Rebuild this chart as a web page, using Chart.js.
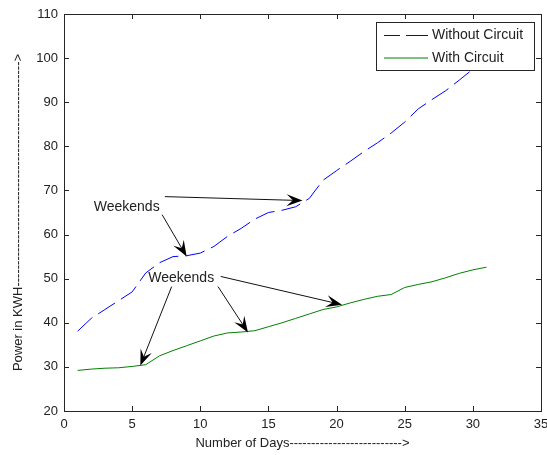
<!DOCTYPE html>
<html>
<head>
<meta charset="utf-8">
<script src="https://cdn.jsdelivr.net/npm/chart.js@4"></script>
<style>
  html, body { margin: 0; padding: 0; background: #fff; }
  canvas { display: block; }
</style>
</head>
<body>
<canvas id="powerChart" width="547" height="455"></canvas>
<script>
const days = [1, 2, 3, 4, 5, 6, 7, 8, 9, 10, 11, 12, 13, 14, 15, 16, 17, 18, 19, 20,
              21, 22, 23, 24, 25, 26, 27, 28, 29, 30, 31];
const withoutCircuit = [38.1, 41, 43, 45, 47, 51.3, 53.6, 55, 55.2, 55.8, 57.3, 59.6, 61.4, 63.5, 65,
                        65.5, 66.3, 68.2, 72.3, 74.5, 76.6, 78.8, 80.8, 83, 85.5, 88.5, 90.6, 92.6, 95, 97.5, 100];
const withCircuit = [29.2, 29.5, 29.7, 29.8, 30.1, 30.5, 32.5, 33.7, 34.8, 35.9, 37, 37.7, 37.9, 38.2, 39.1,
                     40, 41, 42, 43, 43.6, 44.5, 45.3, 46, 46.4, 48, 48.7, 49.3, 50.2, 51.2, 52, 52.6];
const xTicks = [0, 5, 10, 15, 20, 25, 30, 35];
const yTicks = [20, 30, 40, 50, 60, 70, 80, 90, 100, 110];

// "Weekends" notes and their arrows, in data units
const noteText = ['Weekends', 'Weekends'];
const noteX = [4.6, 8.6];
const noteY = [66.3, 50.2];
const arrowFromX = [7.4, 7.2, 7.9, 11.3, 11.5];
const arrowFromY = [68.6, 64.5, 48.2, 48.2, 50.5];
const arrowToX = [17.5, 9.0, 5.6, 13.5, 20.4];
const arrowToY = [67.7, 55.0, 30.3, 37.8, 44.1];

const FONT = "'Liberation Sans', Arial, sans-serif";
const TEXT = '#222';

const axesBox = {
    id: 'axesBox',
    afterDraw(chart) {
        const { ctx, chartArea: a, scales } = chart;
        ctx.save();
        ctx.strokeStyle = '#262626';
        ctx.lineWidth = 1;
        ctx.strokeRect(Math.round(a.left) + 0.5, Math.round(a.top) + 0.5,
                       Math.round(a.right - a.left), Math.round(a.bottom - a.top));
        ctx.beginPath();
        xTicks.forEach(v => {
            const px = Math.round(scales.x.getPixelForValue(v)) + 0.5;
            ctx.moveTo(px, a.bottom); ctx.lineTo(px, a.bottom - 5);
            ctx.moveTo(px, a.top); ctx.lineTo(px, a.top + 5);
        });
        yTicks.forEach(v => {
            const py = Math.round(scales.y.getPixelForValue(v)) + 0.5;
            ctx.moveTo(a.left, py); ctx.lineTo(a.left + 5, py);
            ctx.moveTo(a.right, py); ctx.lineTo(a.right - 5, py);
        });
        ctx.stroke();
        ctx.restore();
    }
};

function drawArrow(ctx, x1, y1, x2, y2) {
    const len = Math.hypot(x2 - x1, y2 - y1);
    const ux = (x2 - x1) / len, uy = (y2 - y1) / len;
    const nx = -uy, ny = ux;
    const L = 16, W = 6;
    ctx.beginPath();
    ctx.moveTo(x1, y1);
    ctx.lineTo(x2 - ux * 8, y2 - uy * 8);
    ctx.stroke();
    ctx.beginPath();
    ctx.moveTo(x2, y2);
    ctx.lineTo(x2 - ux * L + nx * W, y2 - uy * L + ny * W);
    ctx.lineTo(x2 - ux * L * 0.6, y2 - uy * L * 0.6);
    ctx.lineTo(x2 - ux * L - nx * W, y2 - uy * L - ny * W);
    ctx.closePath();
    ctx.fill();
}

const weekendNotes = {
    id: 'weekendNotes',
    afterDatasetsDraw(chart) {
        const { ctx, scales: { x, y } } = chart;
        ctx.save();
        ctx.strokeStyle = '#111';
        ctx.fillStyle = '#000';
        ctx.lineWidth = 1;
        arrowFromX.forEach((fx, i) => {
            drawArrow(ctx, x.getPixelForValue(fx), y.getPixelForValue(arrowFromY[i]),
                      x.getPixelForValue(arrowToX[i]), y.getPixelForValue(arrowToY[i]));
        });
        ctx.fillStyle = TEXT;
        ctx.font = '14px ' + FONT;
        ctx.textAlign = 'center';
        ctx.textBaseline = 'middle';
        noteText.forEach((t, i) => {
            ctx.fillText(t, x.getPixelForValue(noteX[i]), y.getPixelForValue(noteY[i]));
        });
        ctx.restore();
    }
};

const legendBox = {
    id: 'legendBox',
    afterDraw(chart) {
        const { ctx, chartArea: a } = chart;
        const w = 158, h = 48;
        const left = Math.round(a.right - 7 - w), top = Math.round(a.top + 8);
        ctx.save();
        ctx.fillStyle = '#fff';
        ctx.fillRect(left, top, w, h);
        ctx.strokeStyle = '#262626';
        ctx.lineWidth = 1;
        ctx.strokeRect(left + 0.5, top + 0.5, w, h);
        ctx.font = '14px ' + FONT;
        ctx.textBaseline = 'middle';
        chart.data.datasets.forEach((ds, i) => {
            const rowY = top + 13.5 + i * 22.5;
            ctx.strokeStyle = ds.borderColor;
            ctx.setLineDash(ds.borderDash ? [16, 6, 22, 6] : []);
            ctx.beginPath();
            ctx.moveTo(left + 8, rowY);
            ctx.lineTo(left + 52, rowY);
            ctx.stroke();
            ctx.setLineDash([]);
            ctx.fillStyle = TEXT;
            ctx.fillText(ds.label, left + 56, rowY);
        });
        ctx.restore();
    }
};

const ctx = document.getElementById('powerChart').getContext('2d');

new Chart(ctx, {
    type: 'line',
    data: {
        datasets: [{
            label: 'Without Circuit',
            data: days.map((d, i) => ({ x: d, y: withoutCircuit[i] })),
            borderColor: '#0000ff',
            borderWidth: 1,
            borderDash: [20, 7],
            pointRadius: 0,
            tension: 0,
            fill: false
        }, {
            label: 'With Circuit',
            data: days.map((d, i) => ({ x: d, y: withCircuit[i] })),
            borderColor: '#008000',
            borderWidth: 1,
            pointRadius: 0,
            tension: 0,
            fill: false
        }]
    },
    options: {
        responsive: false,
        animation: false,
        layout: { padding: { top: 14, right: 6, left: 0, bottom: 0 } },
        plugins: {
            legend: { display: false },
            tooltip: { enabled: false }
        },
        scales: {
            x: {
                type: 'linear',
                min: 0,
                max: 35,
                afterBuildTicks: s => { s.ticks = xTicks.map(v => ({ value: v })); },
                afterFit: s => { s.height = 44; s.paddingLeft = 0; s.paddingRight = 0; },
                grid: { display: false, drawTicks: false },
                border: { display: false },
                ticks: { color: TEXT, font: { family: FONT, size: 13 }, padding: 6, maxRotation: 0, autoSkip: false },
                title: {
                    display: true,
                    text: 'Number of Days' + '-'.repeat(26) + '>',
                    color: TEXT,
                    font: { family: FONT, size: 13 },
                    padding: { top: 0, bottom: 4 }
                }
            },
            y: {
                min: 20,
                max: 110,
                afterBuildTicks: s => { s.ticks = yTicks.map(v => ({ value: v })); },
                afterFit: s => { s.width = 64; s.paddingTop = 0; s.paddingBottom = 0; },
                grid: { display: false, drawTicks: false },
                border: { display: false },
                ticks: { color: TEXT, font: { family: FONT, size: 13 }, padding: 6, autoSkip: false },
                title: {
                    display: true,
                    text: 'Power in KWH' + '-'.repeat(52) + '>',
                    color: TEXT,
                    font: { family: FONT, size: 13 },
                    padding: { top: 11, bottom: 0 }
                }
            }
        }
    },
    plugins: [weekendNotes, axesBox, legendBox]
});
</script>
</body>
</html>
